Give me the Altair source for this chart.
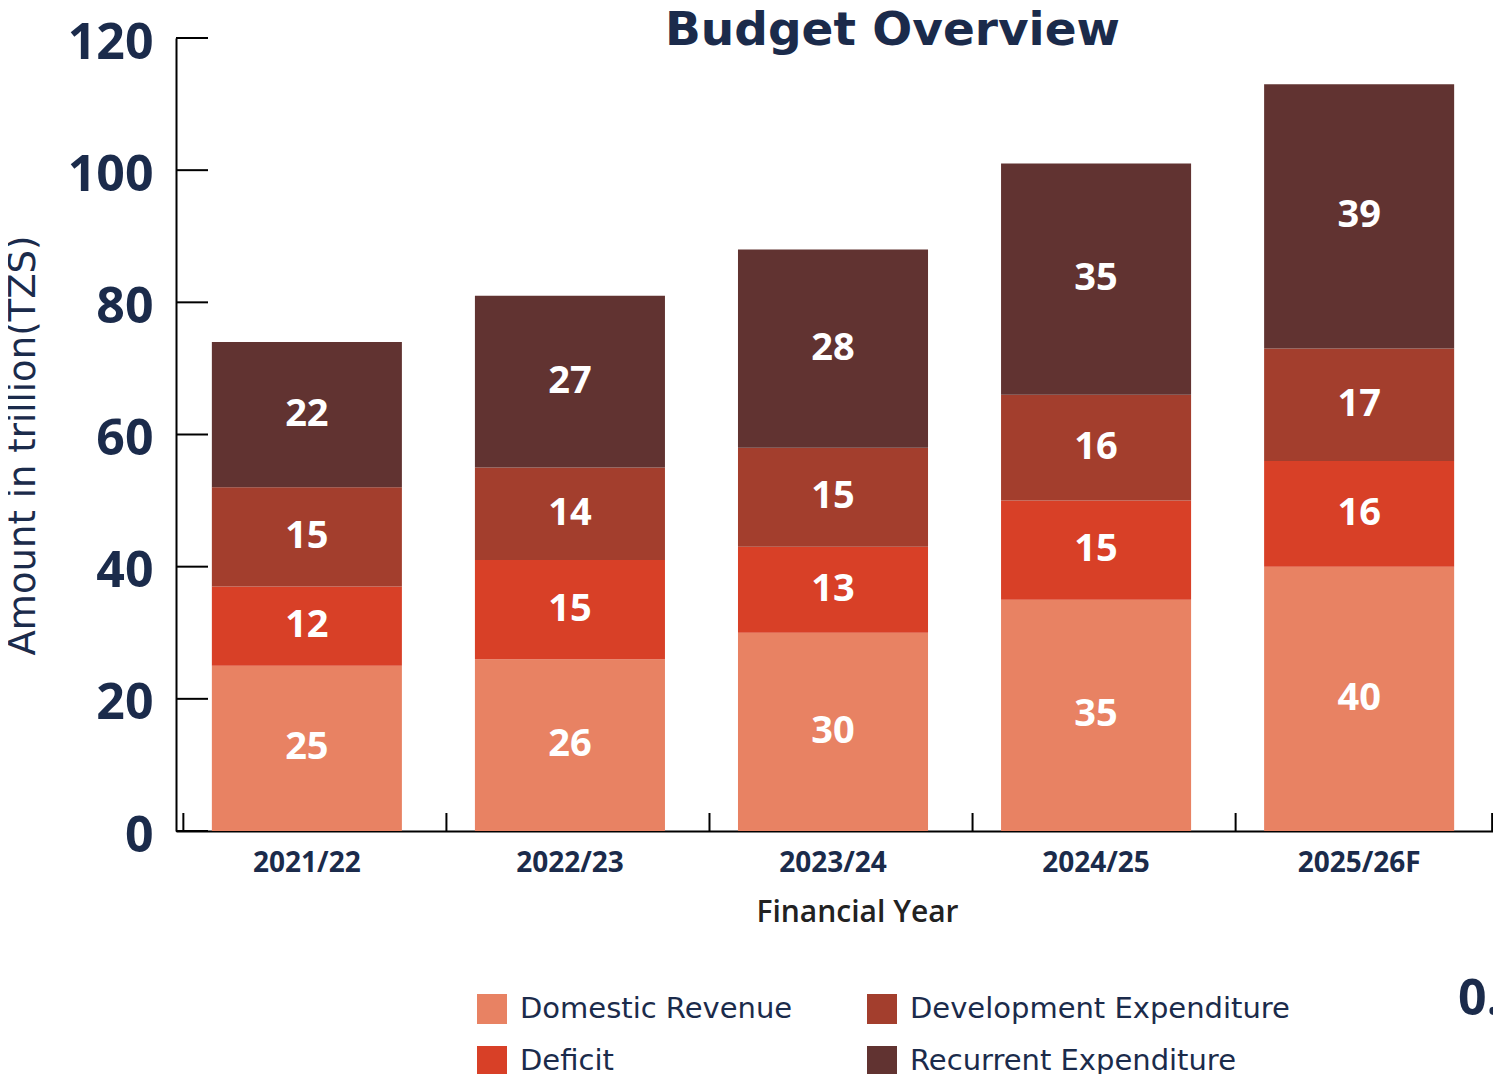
import altair as alt
import pandas as pd

# ---- data ----
years = ["2021/22", "2022/23", "2023/24", "2024/25", "2025/26F"]
domestic_revenue = [25, 26, 30, 35, 40]
deficit = [12, 15, 13, 15, 16]
development_expenditure = [15, 14, 15, 16, 17]
recurrent_expenditure = [22, 26, 30, 35, 40]
recurrent_labels = ["22", "27", "28", "35", "39"]

series_names = ["Domestic Revenue", "Deficit", "Development Expenditure", "Recurrent Expenditure"]
series_colors = ["#E88263", "#D84027", "#A33E2D", "#613331"]
y_ticks = [0, 20, 40, 60, 80, 100, 120]
corner_text = ["0."]

NAVY = "#1B2B4B"
BOLD_FONT = "Open Sans"
REG_FONT = "DejaVu Sans"
W, H = 1317, 793

rows = []
for i, yr in enumerate(years):
    vals = [domestic_revenue[i], deficit[i], development_expenditure[i], recurrent_expenditure[i]]
    labs = [str(domestic_revenue[i]), str(deficit[i]), str(development_expenditure[i]), recurrent_labels[i]]
    for k, name in enumerate(series_names):
        rows.append({"year": yr, "series": name, "rank": k, "value": vals[k], "label": labs[k]})
df = pd.DataFrame(rows)
df_years = pd.DataFrame({"year": years})
df_yt = pd.DataFrame({"t": y_ticks})
df_corner = pd.DataFrame({"txt": corner_text})

xscale = alt.Scale(domain=years, paddingInner=0.2776, paddingOuter=0.142, align=0.48)
yscale = alt.Scale(domain=[0, 120], nice=False, zero=True)

x_axis = alt.Axis(title="Financial Year", labelAngle=0, labelFont=BOLD_FONT,
                  labelFontSize=28, labelFontWeight="bold", labelColor=NAVY,
                  labelPadding=18, ticks=False, tickSize=0, domainColor="black",
                  domainWidth=2, titleFont=BOLD_FONT, titleFontSize=30,
                  titleFontWeight=600, titleColor="#222222", titleX=681, titleY=81,
                  titleBaseline="middle", titleAlign="center", grid=False)
y_axis = alt.Axis(values=y_ticks, grid=False, ticks=False, tickSize=0,
                  labelPadding=23, labelFont=BOLD_FONT, labelFontSize=50,
                  labelFontWeight="bold", labelColor=NAVY, labelOffset=5,
                  domainColor="black", domainWidth=2,
                  title="Amount in trillion(TZS)", titleFont=REG_FONT,
                  titleFontSize=37, titleFontWeight="normal", titleColor=NAVY,
                  titleX=-153, titleY=407, titleAngle=-90,
                  titleBaseline="middle", titleAlign="center")

bars = alt.Chart(df).mark_bar().encode(
    x=alt.X("year:N", scale=xscale, sort=years, axis=x_axis),
    y=alt.Y("value:Q", stack="zero", scale=yscale, axis=y_axis),
    color=alt.Color("series:N",
                    scale=alt.Scale(domain=series_names, range=series_colors),
                    legend=alt.Legend(orient="none", legendX=301, legendY=956, columns=2,
                                      title=None, symbolType="square", symbolSize=900,
                                      symbolStrokeWidth=0, symbolOpacity=1,
                                      labelFont=REG_FONT, labelFontSize=29, labelColor=NAVY,
                                      labelOffset=13, rowPadding=22, columnPadding=74,
                                      padding=0, labelLimit=0)),
    order=alt.Order("rank:Q", sort="ascending"),
)

texts = alt.Chart(df).transform_stack(
    stack="value", groupby=["year"], as_=["v0", "v1"],
    sort=[alt.SortField("rank", order="ascending")],
).transform_calculate(
    mid="(datum.v0 + datum.v1) / 2"
).mark_text(color="white", font=BOLD_FONT, fontSize=38, fontWeight="bold",
            align="center", baseline="middle").encode(
    x=alt.X("year:N", scale=xscale, sort=years, axis=x_axis),
    y=alt.Y("mid:Q", scale=yscale, axis=y_axis),
    text="label:N",
)

ytick_rules = alt.Chart(df_yt).mark_rule(color="black", strokeWidth=2).encode(
    y=alt.Y("t:Q", scale=yscale, axis=y_axis),
    x=alt.value(0),
    x2=alt.value(32),
)

xtick_rules = alt.Chart(df_years).mark_rule(color="black", strokeWidth=2, xOffset=-28.5).encode(
    x=alt.X("year:N", scale=xscale, sort=years, axis=x_axis, bandPosition=0),
    y=alt.value(H - 18),
    y2=alt.value(H),
)

last_tick = alt.Chart(df_years).transform_filter(
    alt.datum.year == years[-1]
).mark_rule(color="black", strokeWidth=2, xOffset=38).encode(
    x=alt.X("year:N", scale=xscale, sort=years, axis=x_axis, bandPosition=1),
    y=alt.value(H - 18),
    y2=alt.value(H),
)

corner = alt.Chart(df_corner).mark_text(
    font=BOLD_FONT, fontSize=50, fontWeight="bold", color=NAVY,
    align="left", baseline="alphabetic",
).encode(
    x=alt.value(W - 35),
    y=alt.value(H + 184),
    text="txt:N",
)

chart = alt.layer(bars, texts, ytick_rules, xtick_rules, last_tick, corner).properties(
    width=W, height=H,
    title=alt.TitleParams("Budget Overview", font=REG_FONT, fontSize=47, fontWeight="bold",
                          color=NAVY, anchor="middle", dx=58, offset=0, dy=74,
                          baseline="alphabetic"),
    autosize=alt.AutoSizeParams(type="none"),
    padding={"left": 168, "top": 30, "right": 0, "bottom": 250},
    background="white",
).configure_view(stroke=None)

chart.save("out.html", embed_options={"renderer": "svg", "actions": False})
